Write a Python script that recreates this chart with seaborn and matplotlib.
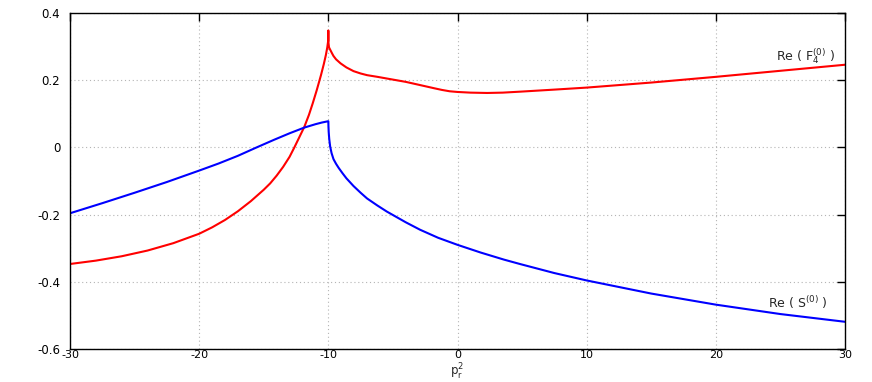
import numpy as np
import pandas as pd
import matplotlib
matplotlib.use("Agg")
import matplotlib.pyplot as plt
import seaborn as sns

# Re ( F4^(0) )
f4_x = [-30, -28, -26, -24, -22, -20, -19, -18, -17, -16, -15, -14.5, -14,
        -13.5, -13, -12.63, -12.25, -11.86, -11.5, -11.21, -10.9, -10.57,
        -10.35, -10.19, -10.08, -10.01, -10.0, -9.99, -9.95, -9.9, -9.82,
        -9.7, -9.6, -9.4, -9.05, -8.6, -8.05, -7.5, -7.0, -6.2, -5.47,
        -4.0, -2.84, -1.8, -1.2, -0.6, 0, 1.0, 2.3, 3.5, 4.9, 7.5, 10, 15,
        20, 25, 30]
f4_y = [-0.347, -0.337, -0.324, -0.307, -0.285, -0.257, -0.238, -0.216,
        -0.190, -0.160, -0.126, -0.107, -0.084, -0.058, -0.028, 0.000,
        0.030, 0.061, 0.097, 0.131, 0.170, 0.215, 0.248, 0.275, 0.298,
        0.318, 0.348, 0.312, 0.298, 0.294, 0.288, 0.279, 0.272, 0.262,
        0.250, 0.238, 0.227, 0.220, 0.215, 0.210, 0.205, 0.195, 0.185,
        0.176, 0.171, 0.167, 0.165, 0.163, 0.162, 0.163, 0.166, 0.172,
        0.178, 0.193, 0.210, 0.228, 0.246]

# Re ( S^(0) )
s_x = [-30, -27.5, -25, -22.5, -20, -18.5, -17, -15.55, -14.18, -13.0,
       -11.86, -11.0, -10.5, -10.0, -9.99, -9.97, -9.93, -9.86, -9.75,
       -9.6, -9.4, -9.2, -8.9, -8.6, -8.05, -7.5, -7.0, -6.2, -5.47, -4.0,
       -2.9, -1.5, 0, 1.8, 3.6, 4.83, 7.5, 10, 15, 20, 25, 30]
s_y = [-0.196, -0.166, -0.135, -0.103, -0.069, -0.048, -0.025, 0.000,
       0.023, 0.042, 0.059, 0.069, 0.074, 0.078, 0.062, 0.045, 0.025,
       0.003, -0.017, -0.035, -0.049, -0.061, -0.077, -0.092, -0.115,
       -0.135, -0.152, -0.173, -0.191, -0.223, -0.245, -0.269, -0.290,
       -0.313, -0.334, -0.347, -0.374, -0.396, -0.435, -0.468, -0.496,
       -0.519]

df = pd.concat([
    pd.DataFrame({"p": f4_x, "val": f4_y, "curve": "F4"}),
    pd.DataFrame({"p": s_x, "val": s_y, "curve": "S"}),
])

sns.set_style("white")
plt.rcParams["font.family"] = ["DejaVu Sans"]
plt.rcParams["mathtext.default"] = "regular"

fig = plt.figure(figsize=(8.72, 3.82), dpi=100)
ax = fig.add_axes([70 / 872, 1 - 349 / 382, 775 / 872, 336 / 382])

sns.lineplot(data=df, x="p", y="val", hue="curve", sort=False,
             palette={"F4": "#ff0000", "S": "#0000ff"}, linewidth=1.5,
             legend=False, ax=ax)

ax.set_xlim(-30, 30)
ax.set_ylim(-0.6, 0.4)
ax.set_xticks(np.arange(-30, 31, 10))
ax.set_yticks(np.arange(-0.6, 0.41, 0.2))
ax.set_xticklabels(["-30", "-20", "-10", "0", "10", "20", "30"])
ax.set_yticklabels(["-0.6", "-0.4", "-0.2", "0", "0.2", "0.4"])
ax.grid(True, color="#b4b4b4", linestyle=(0, (1, 2.5)), linewidth=0.8)
ax.tick_params(direction="in", length=6, width=1, colors="black",
               top=True, right=True, labelsize=8.5, pad=7)
ax.tick_params(axis="x", pad=1, labelsize=8)
for s in ax.spines.values():
    s.set_color("black")
    s.set_linewidth(1)

ax.set_xlabel("p$_r^2$", fontsize=8.5, va="bottom")
ax.xaxis.set_label_coords(0.5, (349 - 382) / 336)
ax.set_ylabel("")

ax.text(29.26, 0.27, "Re ( F$_4^{(0)}$ )", ha="right", va="center", fontsize=9)
ax.text(28.7, -0.462, "Re ( S$^{(0)}$ )", ha="right", va="center", fontsize=9)

fig.savefig("out.png", dpi=100)
